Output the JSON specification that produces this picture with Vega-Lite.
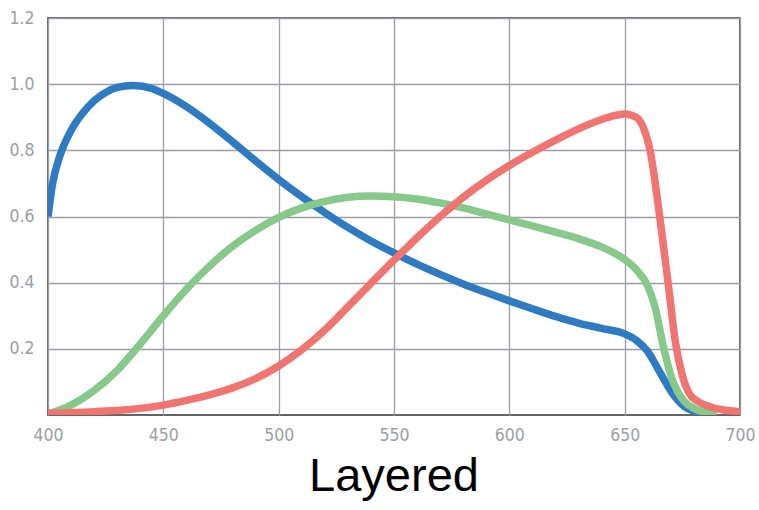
{
  "$schema": "https://vega.github.io/schema/vega-lite/v6.json",
  "width": 692,
  "height": 397,
  "autosize": "none",
  "padding": {"left": 48, "top": 18, "right": 19, "bottom": 95},
  "background": "white",
  "title": {"text": "Layered", "orient": "bottom", "anchor": "middle", "fontSize": 47, "font": "Liberation Sans", "fontWeight": "normal", "color": "#000000", "offset": 10},
  "config": {
    "view": {"stroke": "#333333", "strokeWidth": 1.5},
    "axis": {"gridColor": "#9a9ea6", "gridWidth": 1.3, "gridOpacity": 1, "domain": false, "ticks": false, "labelColor": "#9a9ea6", "labelFont": "DejaVu Sans Condensed", "labelFontSize": 17.5, "title": null}
  },
  "data": {"values": [
    {"wl":400,"s":"blue","v":0.6},{"wl":402,"s":"blue","v":0.7},{"wl":405,"s":"blue","v":0.78},{"wl":410,"s":"blue","v":0.86},{"wl":415,"s":"blue","v":0.912},{"wl":420,"s":"blue","v":0.95},{"wl":425,"s":"blue","v":0.975},{"wl":430,"s":"blue","v":0.99},{"wl":437,"s":"blue","v":0.996},{"wl":445,"s":"blue","v":0.987},{"wl":450,"s":"blue","v":0.972},{"wl":460,"s":"blue","v":0.932},{"wl":470,"s":"blue","v":0.882},{"wl":480,"s":"blue","v":0.826},{"wl":490,"s":"blue","v":0.768},{"wl":500,"s":"blue","v":0.712},{"wl":510,"s":"blue","v":0.66},{"wl":520,"s":"blue","v":0.612},{"wl":530,"s":"blue","v":0.567},{"wl":540,"s":"blue","v":0.526},{"wl":550,"s":"blue","v":0.49},{"wl":560,"s":"blue","v":0.456},{"wl":570,"s":"blue","v":0.425},{"wl":580,"s":"blue","v":0.396},{"wl":590,"s":"blue","v":0.37},{"wl":600,"s":"blue","v":0.345},{"wl":610,"s":"blue","v":0.321},{"wl":620,"s":"blue","v":0.298},{"wl":630,"s":"blue","v":0.278},{"wl":640,"s":"blue","v":0.262},{"wl":650,"s":"blue","v":0.245},{"wl":655,"s":"blue","v":0.226},{"wl":660,"s":"blue","v":0.192},{"wl":664,"s":"blue","v":0.145},{"wl":667,"s":"blue","v":0.108},{"wl":670,"s":"blue","v":0.073},{"wl":673,"s":"blue","v":0.045},{"wl":676,"s":"blue","v":0.025},{"wl":680,"s":"blue","v":0.012},{"wl":685,"s":"blue","v":0.004},{"wl":690,"s":"blue","v":0.001},
    {"wl":400,"s":"green","v":0.003},{"wl":410,"s":"green","v":0.03},{"wl":420,"s":"green","v":0.074},{"wl":430,"s":"green","v":0.135},{"wl":440,"s":"green","v":0.215},{"wl":450,"s":"green","v":0.3},{"wl":460,"s":"green","v":0.38},{"wl":470,"s":"green","v":0.45},{"wl":480,"s":"green","v":0.51},{"wl":490,"s":"green","v":0.558},{"wl":500,"s":"green","v":0.597},{"wl":510,"s":"green","v":0.626},{"wl":520,"s":"green","v":0.646},{"wl":530,"s":"green","v":0.658},{"wl":540,"s":"green","v":0.662},{"wl":550,"s":"green","v":0.66},{"wl":560,"s":"green","v":0.653},{"wl":570,"s":"green","v":0.641},{"wl":580,"s":"green","v":0.626},{"wl":590,"s":"green","v":0.608},{"wl":600,"s":"green","v":0.59},{"wl":610,"s":"green","v":0.572},{"wl":620,"s":"green","v":0.553},{"wl":630,"s":"green","v":0.533},{"wl":640,"s":"green","v":0.508},{"wl":650,"s":"green","v":0.47},{"wl":655,"s":"green","v":0.44},{"wl":660,"s":"green","v":0.39},{"wl":663,"s":"green","v":0.33},{"wl":667,"s":"green","v":0.2},{"wl":670,"s":"green","v":0.12},{"wl":673,"s":"green","v":0.07},{"wl":676,"s":"green","v":0.04},{"wl":680,"s":"green","v":0.02},{"wl":685,"s":"green","v":0.008},{"wl":690,"s":"green","v":0.003},
    {"wl":400,"s":"red","v":0.005},{"wl":420,"s":"red","v":0.01},{"wl":440,"s":"red","v":0.02},{"wl":450,"s":"red","v":0.03},{"wl":460,"s":"red","v":0.044},{"wl":470,"s":"red","v":0.061},{"wl":480,"s":"red","v":0.082},{"wl":490,"s":"red","v":0.11},{"wl":500,"s":"red","v":0.148},{"wl":510,"s":"red","v":0.197},{"wl":520,"s":"red","v":0.257},{"wl":530,"s":"red","v":0.327},{"wl":540,"s":"red","v":0.398},{"wl":550,"s":"red","v":0.468},{"wl":560,"s":"red","v":0.536},{"wl":570,"s":"red","v":0.6},{"wl":580,"s":"red","v":0.658},{"wl":590,"s":"red","v":0.709},{"wl":600,"s":"red","v":0.754},{"wl":610,"s":"red","v":0.794},{"wl":620,"s":"red","v":0.831},{"wl":630,"s":"red","v":0.865},{"wl":640,"s":"red","v":0.893},{"wl":645,"s":"red","v":0.904},{"wl":650,"s":"red","v":0.91},{"wl":655,"s":"red","v":0.9},{"wl":658,"s":"red","v":0.87},{"wl":661,"s":"red","v":0.8},{"wl":665,"s":"red","v":0.61},{"wl":669,"s":"red","v":0.39},{"wl":672,"s":"red","v":0.22},{"wl":675,"s":"red","v":0.12},{"wl":678,"s":"red","v":0.065},{"wl":682,"s":"red","v":0.04},{"wl":687,"s":"red","v":0.025},{"wl":693,"s":"red","v":0.015},{"wl":700,"s":"red","v":0.01}
  ]},
  "mark": {"type": "line", "strokeWidth": 7.5, "interpolate": "monotone", "clip": true},
  "encoding": {
    "x": {"field": "wl", "type": "quantitative", "scale": {"domain": [400, 700], "nice": false, "zero": false}, "axis": {"values": [400, 450, 500, 550, 600, 650, 700], "labelPadding": 11, "labelFlush": false}},
    "y": {"field": "v", "type": "quantitative", "scale": {"domain": [0, 1.2], "nice": false}, "axis": {"values": [0.2, 0.4, 0.6, 0.8, 1.0, 1.2], "format": ".1f", "labelPadding": 14}},
    "color": {"field": "s", "type": "nominal", "scale": {"domain": ["blue", "green", "red"], "range": ["#2e7bc4", "#86c98a", "#f07470"]}, "legend": null}
  }
}
